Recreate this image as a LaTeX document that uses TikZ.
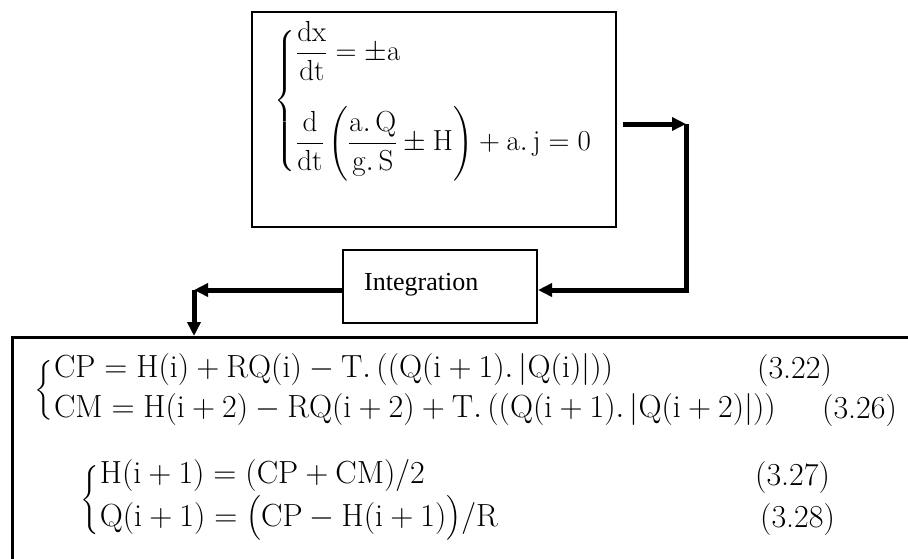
\RequirePackage{fix-cm}
\documentclass[tikz,border=0pt]{standalone}
\usepackage{amsmath}
\usepackage{graphicx}
\usepackage{fontspec}
\newfontfamily\timesfont{Liberation Serif}
\usetikzlibrary{arrows.meta,calc}
\newcommand\bracebox[1]{\vcenter{\hbox{\resizebox*{!}{#1}{$\left\{\vcenter{\hbox{\rule{0pt}{#1}}}\right.$}}}}
\begin{document}
\begin{tikzpicture}[x=1pt,y=-1pt,
  boxline/.style={draw, line width=2pt, inner sep=0pt},
  arr/.style={line width=5pt, line join=miter, -{Triangle[length=14pt,width=13pt]}},
  eqtop/.style={inner sep=0pt, font=\fontsize{29}{35}\selectfont},
  eqbot/.style={inner sep=0pt, font=\fontsize{32}{38}\selectfont},
  eqnum/.style={inner sep=0pt, anchor=base west, font=\fontsize{32}{38}\selectfont}]
\useasboundingbox (0,0) rectangle (908,558);
\clip (0,0) rectangle (908,558);

% boxes
\node[boxline, minimum width=364pt, minimum height=215pt] (top) at (434,119.5) {};
\node[boxline, minimum width=194pt, minimum height=73pt] (int) at (440,286.5) {};
\node[font=\timesfont\fontsize{26}{30}\selectfont, anchor=base west, inner sep=0pt] (intlabel) at (364,290) {Integration};
\node[draw, line width=2.5pt, minimum width=940pt, minimum height=260pt, anchor=north west, inner sep=0pt] (bot) at (11,336) {};

% top equations
\node[eqtop, anchor=west] (topeq) at (274,101) {$\bracebox{141pt}\renewcommand{\arraystretch}{1}\begin{array}{@{}l@{}}
  \dfrac{\mathrm{dx}}{\mathrm{dt}} = \pm\mathrm{a}\\[35pt]
  \dfrac{\mathrm{d}}{\mathrm{dt}}\left(\dfrac{\mathrm{a.\,Q}}{\mathrm{g.\,S}}\pm\mathrm{H}\right)+\mathrm{a.\,j}=0
  \end{array}$};

% bottom equations
\node[eqbot, anchor=west] (sysA) at (34,390) {$\bracebox{63pt}\renewcommand{\arraystretch}{0.85}\begin{array}{@{}l@{}}
  \mathrm{CP}=\mathrm{H(i)}+\mathrm{RQ(i)}-\mathrm{T.\,((Q(i}+1).\,|\mathrm{Q(i)}|))\\[6pt]
  \mathrm{CM}=\mathrm{H(i}+2)-\mathrm{RQ(i}+2)+\mathrm{T.\,((Q(i}+1).\,|\mathrm{Q(i}+2)|))
  \end{array}$};
\node[eqbot, anchor=west] (sysB) at (80,500) {$\bracebox{69pt}\renewcommand{\arraystretch}{0.85}\begin{array}{@{}l@{}}
  \mathrm{H(i}+1)=(\mathrm{CP}+\mathrm{CM})/2\\[3pt]
  \mathrm{Q(i}+1)=\bigl(\mathrm{CP}-\mathrm{H(i}+1)\bigr)/\mathrm{R}
  \end{array}$};

\node[eqnum] (n22) at (757,378) {(3.22)};
\node[eqnum] (n26) at (822,418) {(3.26)};
\node[eqnum] (n27) at (755,485) {(3.27)};
\node[eqnum] (n28) at (760,527) {(3.28)};

% connectors
\coordinate (c1) at (686,124);
\coordinate (c2) at (686,290);
\coordinate (c3) at (194,290);
\draw[arr] ([xshift=6pt,yshift=-4.5pt]top.east) -- (c1);
\draw[arr] (c1) -- (c2) -- (int.east |- c2);
\draw[arr] (int.west |- c3) -- (c3);
\draw[arr] (c3) -- (c3 |- bot.north);
\end{tikzpicture}
\end{document}
